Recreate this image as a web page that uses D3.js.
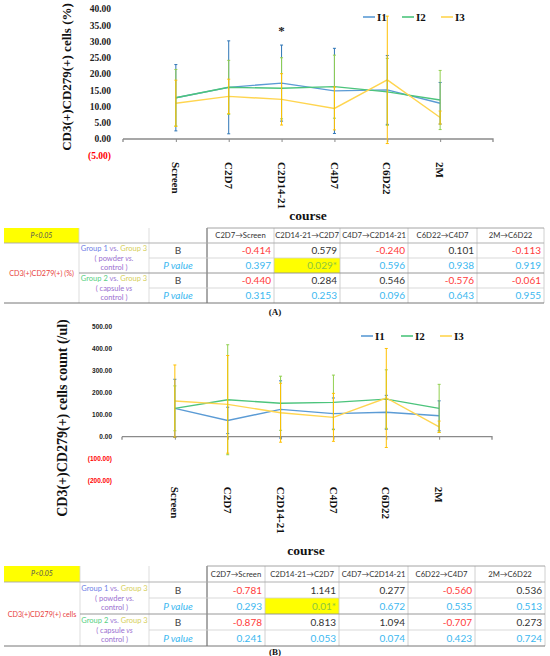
<!DOCTYPE html>
<html><head><meta charset="utf-8">
<script src="https://cdn.jsdelivr.net/npm/d3@7"></script>
<style>body{margin:0;background:#fff} svg{display:block}</style>
</head><body><svg id="c" width="550" height="656"></svg>
<script>
// ---------- data ----------
const categories = ["Screen", "C2D7", "C2D14-21", "C4D7", "C6D22", "2M"];
const seriesNames = ["I1", "I2", "I3"];

// Panel A: CD3(+)CD279(+) cells (%)
const pctI1 = [12.7, 15.9, 17.2, 14.8, 15.1, 11.0];
const pctI2 = [12.7, 15.9, 15.6, 16.1, 14.5, 12.0];
const pctI3 = [11.0, 13.1, 12.2, 9.4, 18.2, 6.6];
const pctErrI1 = [10.2, 14.3, 11.7, 13.1, 10.6, 6.4];
const pctErrI2 = [8.7, 8.3, 9.4, 9.7, 10.3, 9.1];
const pctErrI3 = [7.1, 5.3, 7.9, 6.6, 19.6, 2.0];
const yTicksA = [-5, 0, 5, 10, 15, 20, 25, 30, 35, 40];

// Panel B: CD3(+)CD279(+) cells count (/ul)
const cntI1 = [129, 74, 124, 105, 111, 95];
const cntI2 = [129, 168, 152, 156, 171, 129];
const cntI3 = [162, 147, 109, 88, 176, 45];
const cntErrI1 = [132, 60, 130, 71, 77, 68];
const cntErrI2 = [102, 250, 123, 124, 133, 109];
const cntErrI3 = [164, 222, 134, 109, 225, 26];
const yTicksB = [-200, -100, 0, 100, 200, 300, 400, 500];

// Tables
const tableHeadersA = ["C2D7\u2192Screen", "C2D14-21\u2192C2D7", "C4D7\u2192C2D14-21", "C6D22\u2192C4D7", "2M\u2192C6D22"];
const tableHeadersB = tableHeadersA;
const tA_B1 = [-0.414, 0.579, -0.240, 0.101, -0.113];
const tA_P1 = ["0.397", "0.029", "0.596", "0.938", "0.919"];
const tA_B2 = [-0.440, 0.284, 0.546, -0.576, -0.061];
const tA_P2 = ["0.315", "0.253", "0.096", "0.643", "0.955"];
const tB_B1 = [-0.781, 1.141, 0.277, -0.560, 0.536];
const tB_P1 = ["0.293", "0.01", "0.672", "0.535", "0.513"];
const tB_B2 = [-0.878, 0.813, 1.094, -0.707, 0.273];
const tB_P2 = ["0.241", "0.053", "0.074", "0.423", "0.724"];

// ---------- styles ----------
const lineColors = ["#5B9BD5", "#4CC47C", "#FFD54F"];
const errColors = ["#2E75B6", "#92D050", "#FFC000"];
const SERIF = "'Liberation Serif','Times New Roman',serif";
const SANS = "'Liberation Sans',Arial,sans-serif";
const TFONT = "Lato,'Open Sans',sans-serif";

const svg = d3.select("#c");
const fmt2 = d3.format(".2f");
const tickFmt = v => v < 0 ? "(" + fmt2(-v) + ")" : fmt2(v);

function drawPanel(cfg) {
  const g = svg.append("g");
  const x = d3.scalePoint().domain(categories).range(cfg.xRange).padding(1);
  const y = d3.scaleLinear().domain(cfg.yDomain).range(cfg.yRange);
  const y0 = y(0);

  g.selectAll("text.yt").data(cfg.yTicks).join("text")
    .attr("x", cfg.labelRight).attr("y", d => y(d)).attr("dy", "0.35em")
    .attr("text-anchor", "end")
    .style("font-family", cfg.tickFont).style("font-size", cfg.tickSize + "px").style("font-weight", "bold")
    .attr("fill", d => d < 0 ? "#ff0000" : "#222")
    .text(tickFmt);

  const xAxis = d3.axisBottom(x).tickSize(3).tickFormat("");
  const ax = g.append("g").attr("transform", `translate(0,${y0})`).call(xAxis);
  ax.select(".domain").attr("stroke", "#8a8a8a").attr("stroke-width", 1.3)
    .attr("d", `M${cfg.xRange[0]},0V3M${cfg.xRange[0]},0H${cfg.xRange[1]}V3`);
  ax.selectAll(".tick line").attr("stroke", "#8a8a8a");

  g.selectAll("text.cat").data(categories).join("text")
    .attr("transform", d => `translate(${x(d)},${y0 + cfg.catOffset}) rotate(90)`)
    .attr("dy", "0.35em")
    .style("font-family", SERIF).style("font-size", "11px").style("font-weight", "bold")
    .attr("fill", "#111").text(d => d);

  const line = d3.line().x((d, i) => x(categories[i])).y(d => y(d));
  cfg.series.forEach((s, k) => {
    g.append("path").datum(s).attr("d", line).attr("fill", "none")
      .attr("stroke", lineColors[k]).attr("stroke-width", 1.4);
  });
  cfg.series.forEach((s, k) => {
    const e = cfg.errs[k];
    s.forEach((v, i) => {
      const cx = x(categories[i]);
      const top = y(v + e[i]), bot = y(v - e[i]);
      g.append("line").attr("x1", cx).attr("x2", cx).attr("y1", top).attr("y2", bot)
        .attr("stroke", errColors[k]).attr("stroke-width", 1);
      [top, bot].forEach(yy => g.append("line").attr("x1", cx - 1.5).attr("x2", cx + 1.5)
        .attr("y1", yy).attr("y2", yy).attr("stroke", errColors[k]).attr("stroke-width", 1));
    });
  });

  seriesNames.forEach((n, k) => {
    const lx = cfg.legendX[k];
    g.append("line").attr("x1", lx).attr("x2", lx + 12).attr("y1", cfg.legendY).attr("y2", cfg.legendY)
      .attr("stroke", lineColors[k]).attr("stroke-width", 1.6);
    g.append("text").attr("x", lx + 14).attr("y", cfg.legendY).attr("dy", "0.35em")
      .style("font-family", SERIF).style("font-size", "11px").style("font-weight", "bold")
      .attr("fill", "#111").text(n);
  });

  g.append("text").attr("transform", `translate(${cfg.titleX},${cfg.titleY}) rotate(-90)`)
    .attr("text-anchor", "middle").attr("dy", "0.35em")
    .style("font-family", SERIF).style("font-size", cfg.titleSize + "px").style("font-weight", "bold")
    .attr("fill", "#111").text(cfg.title);

  g.append("text").attr("x", cfg.courseX).attr("y", cfg.courseY).attr("text-anchor", "middle")
    .style("font-family", SERIF).style("font-size", "13.5px").style("font-weight", "bold")
    .attr("fill", "#111").text("course");
  return {x, y, g};
}

const pA = drawPanel({
  xRange: [123, 493], yDomain: [-5, 40], yRange: [155.25, 9], yTicks: yTicksA,
  labelRight: 111, tickFont: SERIF, tickSize: 9.5, catOffset: 23,
  series: [pctI1, pctI2, pctI3], errs: [pctErrI1, pctErrI2, pctErrI3],
  legendX: [363, 402, 441], legendY: 17,
  title: "CD3(+)CD279(+) cells (%)", titleX: 66, titleY: 77, titleSize: 13,
  courseX: 308, courseY: 220
});
pA.g.append("text").attr("x", pA.x("C2D14-21")).attr("y", 35).attr("text-anchor", "middle")
  .style("font-family", SERIF).style("font-size", "13px").style("font-weight", "bold").attr("fill", "#222").text("*");

const pB = drawPanel({
  xRange: [122, 492], yDomain: [-200, 500], yRange: [480.7, 326.7], yTicks: yTicksB,
  labelRight: 112, tickFont: SANS, tickSize: 6.5, catOffset: 50,
  series: [cntI1, cntI2, cntI3], errs: [cntErrI1, cntErrI2, cntErrI3],
  legendX: [361, 401, 440], legendY: 336,
  title: "CD3(+)CD279(+) cells count (/ul)", titleX: 62, titleY: 418, titleSize: 14,
  courseX: 306, courseY: 555
});

// ---------- tables ----------
function drawTable(cfg) {
  const g = svg.append("g");
  const C = cfg.cols, R = cfg.rows;
  const right = C[C.length - 1];
  g.append("rect").attr("x", C[0]).attr("y", R[0]).attr("width", C[1] - C[0]).attr("height", R[1] - R[0]).attr("fill", "#ffff00");
  g.append("text").attr("x", (C[0] + C[1]) / 2).attr("y", (R[0] + R[1]) / 2).attr("dy", "0.35em")
    .attr("text-anchor", "middle").style("font-family", TFONT).style("font-size", "7px").style("font-style", "italic")
    .attr("fill", "#555").text("P<0.05");

  const rowsData = [cfg.b1, cfg.p1, cfg.b2, cfg.p2];
  rowsData.forEach((arr, r) => {
    if (r % 2 === 1) arr.forEach((p, j) => {
      if (+p < 0.05) g.append("rect").attr("x", C[j + 3]).attr("y", R[r + 1]).attr("width", C[j + 4] - C[j + 3])
        .attr("height", R[r + 2] - R[r + 1]).attr("fill", "#ffff00");
    });
  });

  const ln = (x1, y1, x2, y2, c, w) => g.append("line").attr("x1", x1).attr("y1", y1).attr("x2", x2).attr("y2", y2)
    .attr("stroke", c).attr("stroke-width", w || 0.8);
  [C[1], C[2]].forEach(cx => ln(cx, R[0], cx, R[5], "#d4d4d4"));
  C.slice(4).forEach(cx => ln(cx, R[0], cx, R[5], "#c4c4c4"));
  ln(C[3], R[0], C[3], R[5], "#555", 1);
  ln(C[3], R[0], right, R[0], "#9a9a9a", 0.9);
  ln(C[0], R[1], right, R[1], "#a8a8a8", 0.9);
  ln(C[2], R[2], right, R[2], "#cfcfcf");
  ln(C[1], R[3], right, R[3], "#8c8c8c", 0.9);
  ln(C[2], R[4], right, R[4], "#cfcfcf");
  ln(C[0], R[5], right, R[5], "#777", 1);

  cfg.headers.forEach((h, j) => {
    g.append("text").attr("x", (C[j + 3] + C[j + 4]) / 2).attr("y", (R[0] + R[1]) / 2).attr("dy", "0.35em")
      .attr("text-anchor", "middle").style("font-family", TFONT).style("font-size", "7.7px")
      .attr("fill", "#333").text(h);
  });

  g.append("text").attr("x", (C[0] + C[1]) / 2).attr("y", R[3]).attr("dy", "0.35em")
    .attr("text-anchor", "middle").style("font-family", TFONT).style("font-size", "7.2px")
    .attr("fill", "#e8413c").text(cfg.label);

  const groups = [
    {n: "Group 1", c: "#6f7fe6", w: "powder", vsEnd: " vs."},
    {n: "Group 2", c: "#55d07f", w: "capsule", vsEnd: " vs"}
  ];
  groups.forEach((gr, k) => {
    const mid = (R[1 + 2 * k] + R[3 + 2 * k]) / 2;
    const cx = (C[1] + C[2]) / 2;
    const t1 = g.append("text").attr("x", cx).attr("y", mid - 10).attr("dy", "0.35em").attr("text-anchor", "middle")
      .style("font-family", TFONT).style("font-size", "7.5px");
    t1.append("tspan").attr("fill", gr.c).text(gr.n);
    t1.append("tspan").attr("fill", "#a07cd6").text(" vs. ");
    t1.append("tspan").attr("fill", "#d6cf5a").text("Group 3");
    const t2 = g.append("text").attr("x", cx).attr("y", mid).attr("dy", "0.35em").attr("text-anchor", "middle")
      .style("font-family", TFONT).style("font-size", "7.5px").attr("fill", "#9a6fd0");
    t2.append("tspan").text("( " + gr.w);
    t2.append("tspan").style("font-style", "italic").text(gr.vsEnd);
    g.append("text").attr("x", cx).attr("y", mid + 9.5).attr("dy", "0.35em").attr("text-anchor", "middle")
      .style("font-family", TFONT).style("font-size", "7.5px").attr("fill", "#9a6fd0").text("control )");
  });

  rowsData.forEach((arr, r) => {
    const cy = (R[r + 1] + R[r + 2]) / 2;
    const isP = r % 2 === 1;
    g.append("text").attr("x", (C[2] + C[3]) / 2).attr("y", cy).attr("dy", "0.36em").attr("text-anchor", "middle")
      .style("font-family", TFONT).style("font-size", "10px").style("font-style", isP ? "italic" : "normal")
      .attr("fill", isP ? "#3cb8f0" : "#444").text(isP ? "P value" : "B");
    arr.forEach((v, j) => {
      let txt, col;
      if (isP) {
        const sig = +v < 0.05;
        txt = sig ? v + "*" : v;
        col = sig ? "#8cc63f" : "#3cb8f0";
      } else {
        txt = d3.format(".3f")(v).replace("\u2212", "-");
        col = v < 0 ? "#ff3b3b" : "#333";
      }
      g.append("text").attr("x", C[j + 4] - 3).attr("y", cy).attr("dy", "0.36em").attr("text-anchor", "end")
        .style("font-family", TFONT).style("font-size", "10px").attr("fill", col).text(txt);
    });
  });

  g.append("text").attr("x", 275).attr("y", cfg.capY).attr("text-anchor", "middle")
    .style("font-family", SERIF).style("font-size", "9px").style("font-weight", "bold").attr("fill", "#111").text(cfg.cap);
}

drawTable({
  cols: [4, 79, 149, 207, 274, 340, 408, 477, 544],
  rows: [228, 243, 258, 273, 288, 303],
  headers: tableHeadersA, label: "CD3(+)CD279(+) (%)",
  b1: tA_B1, p1: tA_P1, b2: tA_B2, p2: tA_P2, cap: "(A)", capY: 315
});
drawTable({
  cols: [4, 80, 149, 207, 265, 339, 408, 475, 545],
  rows: [566, 582, 598, 614, 630, 646],
  headers: tableHeadersB, label: "CD3(+)CD279(+) cells",
  b1: tB_B1, p1: tB_P1, b2: tB_B2, p2: tB_P2, cap: "(B)", capY: 655
});
</script></body></html>
